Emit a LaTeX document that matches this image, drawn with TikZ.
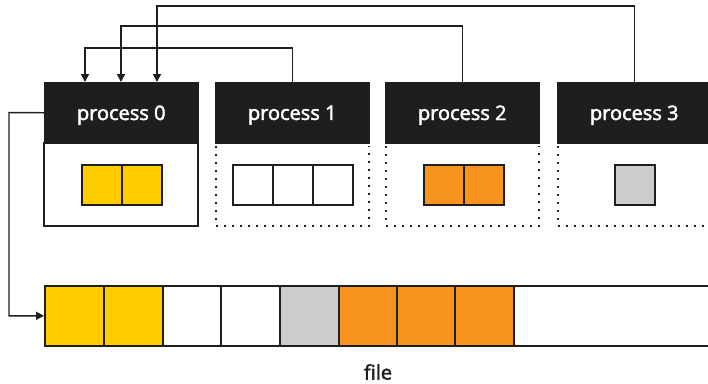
\documentclass[tikz,border=0pt]{standalone}
\usepackage{fontspec}
\setmainfont{Open Sans}
\newfontfamily\hfont{Open Sans}
\usetikzlibrary{arrows.meta}
\definecolor{hdr}{HTML}{1E1E1C}
\definecolor{ink}{HTML}{1E1E1C}
\definecolor{yel}{HTML}{FFCC00}
\definecolor{org}{HTML}{F7931E}
\definecolor{gry}{HTML}{CCCCCC}
\newcommand{\semib}[1]{\special{pdf:literal direct 2 Tr 0.35 w}#1\special{pdf:literal direct 0 Tr}}
\begin{document}
\begin{tikzpicture}[x=0.75pt,y=-0.75pt,
  header/.style={fill=hdr,draw=hdr,minimum width=115.5pt,minimum height=45.75pt,inner sep=0pt,
     text=white,font=\hfont\fontsize{15pt}{17pt}\selectfont,text depth=0pt,anchor=north west},
  cell/.style={draw=ink,line width=1.4pt,minimum width=30pt,minimum height=30pt,inner sep=0pt,anchor=north west},
  fcell/.style={draw=ink,line width=1.2pt,minimum width=44pt,minimum height=45pt,inner sep=0pt,anchor=north west},
  dotline/.style={line width=1.5pt,dash pattern=on 1.5pt off 4.5pt,draw=ink},
  conn/.style={draw=ink,line width=1.1pt,-{Triangle[length=6pt,width=6pt]}},
  link/.style={draw=ink,line width=1.1pt}]
\useasboundingbox (0,0) rectangle (708,383);
\clip (0,0) rectangle (708,383);
% bodies
\draw[ink,line width=1.5pt] (44,143) rectangle (198,226);
\draw[dotline] (216,146) -- (216,226) -- (369,226) -- (369,146);
\draw[dotline] (386,146) -- (386,226) -- (539,226) -- (539,146);
\draw[dotline] (558,146) -- (558,226) -- (712,226);
% headers
\node[header] (p0) at (44,82) {\semib{process 0}};
\node[header] (p1) at (215,82) {\semib{process 1}};
\node[header] (p2) at (385,82) {\semib{process 2}};
\node[header] (p3) at (557,82) {\semib{process 3}};
% inner cells
\node[cell,fill=yel] (a0) at (81,164) {};
\node[cell,fill=yel] (a1) at (121,164) {};
\node[cell,fill=white] (b0) at (232,164) {};
\node[cell,fill=white] (b1) at (272,164) {};
\node[cell,fill=white] (b2) at (312,164) {};
\node[cell,fill=org] (c0) at (423,164) {};
\node[cell,fill=org] (c1) at (463,164) {};
\node[cell,fill=gry] (d0) at (614,164) {};
% file
\node[fcell,fill=yel] (f0) at (44,285) {};
\node[fcell,fill=yel] (f1) at (103,285) {};
\node[fcell,fill=white] (f2) at (162,285) {};
\node[fcell,fill=white] (f3) at (220,285) {};
\node[fcell,fill=gry] (f4) at (279,285) {};
\node[fcell,fill=org] (f5) at (338,285) {};
\node[fcell,fill=org] (f6) at (396,285) {};
\node[fcell,fill=org] (f7) at (454,285) {};
\node[fcell,fill=white,minimum width=160pt] (f8) at (513,285) {};
\node[text=ink,font=\hfont\fontsize{15pt}{17pt}\selectfont] (flabel) at (378,372) {\semib{file}};
% connectors
\coordinate (t1) at (85,48);
\coordinate (t2) at (121,26);
\coordinate (t3) at (157,6);
\draw[conn] (p1.north) |- (t1) -- (t1 |- p0.north);
\draw[conn] (p2.north) |- (t2) -- (t2 |- p0.north);
\draw[conn] (p3.north) |- (t3) -- (t3 |- p0.north);
\coordinate (lft) at (9,112.5);
\draw[conn] (p0.west) -- (lft) |- (f0.west);
\end{tikzpicture}
\end{document}
